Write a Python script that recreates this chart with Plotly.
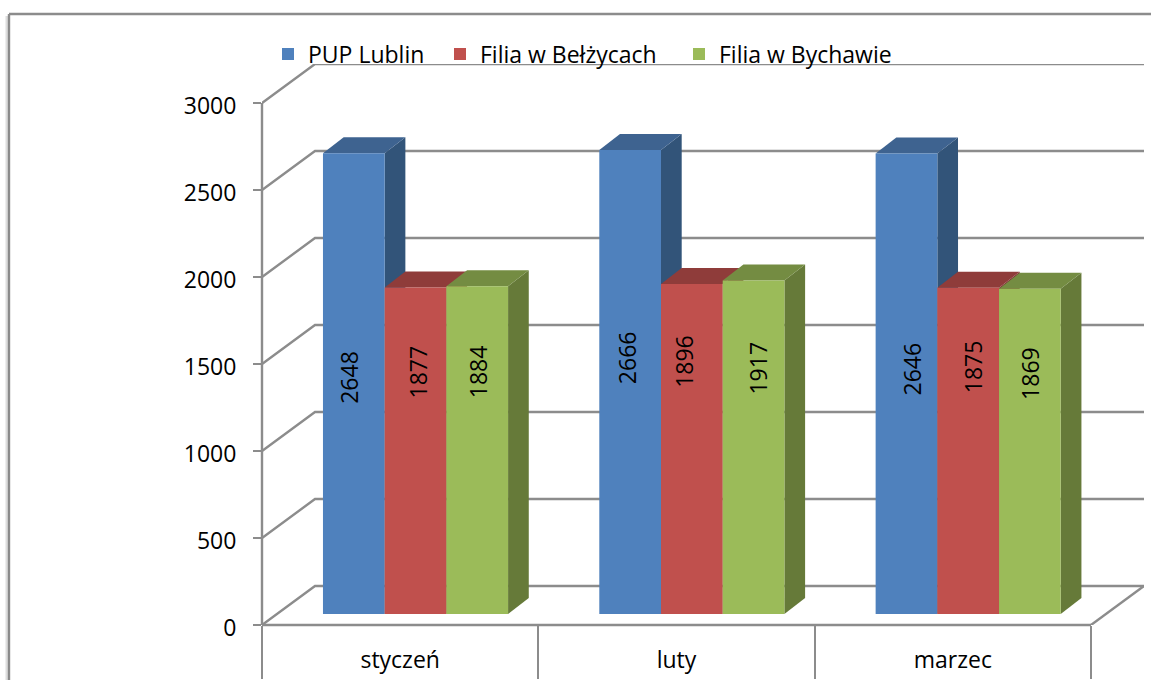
import plotly.graph_objects as go

categories = ["styczeń", "luty", "marzec"]
series_names = ["PUP Lublin", "Filia w Bełżycach", "Filia w Bychawie"]
pup_lublin = [2648, 2666, 2646]
filia_belzyce = [1877, 1896, 1875]
filia_bychawa = [1884, 1917, 1869]
y_ticks = [0, 500, 1000, 1500, 2000, 2500, 3000]
series_values = [pup_lublin, filia_belzyce, filia_bychawa]

FRONT = ["#4F81BD", "#C0504D", "#9BBB59"]
TOP = ["#3E6390", "#8F3C3A", "#748C42"]
SIDE = ["#325479", "#7F3533", "#667A39"]
GREY = "#8C8C8C"
LW = 2.4
FONT = "Open Sans"
FS = 23
W, H = 1151, 680
L, R, T, B = 262, 1144, 64, 625
PX_Y = (625 - 103) / 3000
PX_X = (1091 - 262) / 3
YMAX = (B - T) / PX_Y
XMIN, XMAX = 0.5, 0.5 + (R - L) / PX_X
WALL_DX = XMAX - 3.5
WALL_DY = 39 / PX_Y
BAR_W = 61.7 / PX_X
BAR_SHIFT = -77.2 / PX_X
BAR_BASE = 11 / PX_Y
DX, DY = 20.7 / PX_X, 16 / PX_Y

# label placement, in pixels
label_dx = [[-5, 2, 1], [-3, -8, 4], [6, 5, 0]]
label_y = [[377, 372, 372], [358, 361, 368], [369, 367, 373]]
legend_x = [268, 440, 679]

fig = go.Figure()

# walls and floor
for v in y_ticks:
    fig.add_trace(go.Scatter(
        x=[XMIN, XMIN + WALL_DX, XMAX], y=[v, v + WALL_DY, v + WALL_DY],
        mode="lines", line=dict(color=GREY, width=LW), showlegend=False, hoverinfo="skip"))
fig.add_trace(go.Scatter(
    x=[3.5, XMAX], y=[0, WALL_DY], mode="lines",
    line=dict(color=GREY, width=LW), showlegend=False, hoverinfo="skip"))

# depth faces
for c in range(3):
    for s in range(3):
        x0 = c + 1 + BAR_SHIFT + s * BAR_W
        x1 = x0 + BAR_W
        top = series_values[s][c] + BAR_BASE
        fig.add_trace(go.Scatter(
            x=[x1, x1 + DX, x1 + DX, x1, x1],
            y=[BAR_BASE, BAR_BASE + DY, top + DY, top, BAR_BASE],
            mode="lines", fill="toself", fillcolor=SIDE[s], line=dict(width=0),
            showlegend=False, hoverinfo="skip"))
        fig.add_trace(go.Scatter(
            x=[x0, x1, x1 + DX, x0 + DX, x0],
            y=[top, top, top + DY, top + DY, top],
            mode="lines", fill="toself", fillcolor=TOP[s], line=dict(width=0),
            showlegend=False, hoverinfo="skip"))

# front faces
legend_ids = ["legend", "legend2", "legend3"]
for s in range(3):
    fig.add_trace(go.Bar(
        x=[1, 2, 3], y=series_values[s], base=BAR_BASE, width=BAR_W,
        offset=BAR_SHIFT + s * BAR_W, name=series_names[s],
        marker=dict(color=FRONT[s], line=dict(width=0)), yaxis="y2",
        legend=legend_ids[s], showlegend=True))

annotations = []
for c in range(3):
    for s in range(3):
        xc = c + 1 + BAR_SHIFT + (s + 0.5) * BAR_W
        annotations.append(dict(
            x=xc, y=(B - label_y[c][s]) / PX_Y, xref="x", yref="y",
            text=str(series_values[s][c]), textangle=-90, showarrow=False,
            xshift=label_dx[c][s], font=dict(family=FONT, size=FS, color="black")))


def px(x):
    return (x - L) / (R - L)


def py(y):
    return (B - y) / (B - T)


line = dict(color=GREY, width=LW)
shapes = [
    dict(type="line", xref="paper", yref="paper", x0=px(9), x1=px(W), y0=py(14), y1=py(14), line=line),
    dict(type="line", xref="paper", yref="paper", x0=px(9), x1=px(9), y0=py(14), y1=py(H), line=line),
    dict(type="line", xref="paper", yref="paper", x0=px(7), x1=px(7), y0=py(16), y1=py(H),
         line=dict(color="rgba(120,120,120,0.25)", width=3)),
    dict(type="line", xref="paper", yref="paper", x0=0, x1=0, y0=0, y1=py(103), line=line),
    dict(type="line", xref="paper", yref="paper", x0=0, x1=px(1091), y0=0, y1=0, line=line),
]


def legend_at(x):
    return dict(orientation="h", x=px(x), y=py(54),
                xanchor="left", yanchor="middle", bgcolor="rgba(0,0,0,0)",
                font=dict(family=FONT, size=FS), itemclick=False, itemdoubleclick=False)


fig.update_layout(
    width=W, height=H, autosize=False,
    margin=dict(l=L, r=W - R, t=T, b=H - B, pad=0, autoexpand=False),
    paper_bgcolor="white", plot_bgcolor="white",
    barmode="overlay",
    font=dict(family=FONT, size=FS, color="black"),
    showlegend=True,
    legend=legend_at(legend_x[0]),
    legend2=legend_at(legend_x[1]),
    legend3=legend_at(legend_x[2]),
    xaxis=dict(range=[XMIN, XMAX], tickmode="array", tickvals=[1, 2, 3], ticktext=categories,
               showgrid=False, zeroline=False, showline=False, ticks="", ticklabelstandoff=19,
               automargin=False, tickfont=dict(family=FONT, size=FS),
               minor=dict(tickmode="array", tickvals=[0.5, 1.5, 2.5, 3.5], ticks="outside",
                          ticklen=53, tickwidth=LW, tickcolor=GREY, showgrid=False)),
    yaxis=dict(range=[0, YMAX], tickmode="array", tickvals=y_ticks, showgrid=False, zeroline=False,
               showline=False, ticks="outside", ticklen=8, tickwidth=LW, tickcolor=GREY,
               ticklabelstandoff=12, ticklabelshift=3, automargin=False,
               tickfont=dict(family=FONT, size=FS)),
    yaxis2=dict(range=[0, YMAX], overlaying="y", side="left", visible=False, showgrid=False),
    shapes=shapes,
    annotations=annotations,
)

fig.write_html("out.html", config=dict(displayModeBar=False),
               post_script="document.body.style.margin='0';")
